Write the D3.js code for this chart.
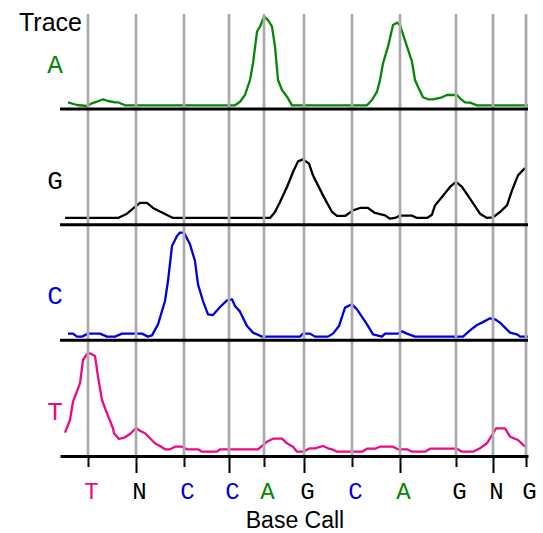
<!DOCTYPE html>
<html>
<head>
<meta charset="utf-8">
<script src="https://cdn.jsdelivr.net/npm/d3@7"></script>
<style>
  body { margin: 0; background: #fff; }
  svg { display: block; }
</style>
</head>
<body>
<div id="chart"></div>
<script>
// chromatogram: one trace per base, base calls along the bottom
var bases = ["A", "G", "C", "T"];
var callScans = [28, 76, 124, 169, 204, 244, 292, 340, 396, 433, 466];
var callLabels = ["T", "N", "C", "C", "A", "G", "C", "A", "G", "N", "G"];

// [scan, intensity]
var traceA = [[8, 67], [17, 40], [27, 30], [32, 57], [37, 73], [43, 97], [48, 80], [55, 67], [58, 67], [65, 37],
  [175, 37], [180, 73], [185, 140], [190, 290], [193, 457], [197, 773], [200, 823], [204, 923], [208, 890],
  [212, 823], [215, 623], [218, 290], [222, 190], [227, 123], [232, 37], [307, 37], [312, 90], [317, 173],
  [320, 290], [323, 457], [328, 623], [333, 840], [337, 863], [340, 840], [347, 623], [352, 473], [355, 290],
  [358, 223], [363, 117], [368, 97], [373, 97], [382, 117], [387, 140], [397, 140], [400, 107], [405, 67],
  [410, 63], [417, 37], [468, 37]];
var traceG = [[5, 67], [58, 67], [67, 110], [75, 177], [80, 217], [87, 217], [93, 167], [103, 117], [113, 67],
  [210, 67], [215, 127], [220, 227], [227, 377], [233, 527], [238, 633], [243, 653], [249, 610], [253, 493],
  [263, 293], [272, 127], [277, 87], [285, 87], [293, 143], [300, 167], [308, 167], [315, 117], [325, 93],
  [330, 60], [335, 67], [340, 90], [352, 90], [357, 67], [367, 67], [372, 100], [375, 193], [382, 277],
  [390, 377], [396, 427], [402, 377], [410, 260], [420, 110], [427, 67], [433, 73], [440, 127], [447, 193],
  [452, 343], [458, 493], [465, 567]];
var traceC = [[8, 67], [13, 67], [17, 37], [22, 37], [28, 67], [40, 67], [47, 37], [55, 37], [62, 67], [82, 67],
  [88, 37], [92, 50], [98, 160], [105, 393], [108, 593], [112, 943], [117, 1043], [120, 1077], [124, 1077],
  [130, 960], [135, 793], [138, 560], [143, 393], [148, 260], [153, 253], [160, 333], [167, 400], [172, 410],
  [175, 343], [180, 287], [187, 143], [193, 77], [202, 37], [240, 37], [243, 67], [250, 67], [255, 37],
  [268, 37], [273, 67], [279, 143], [285, 327], [292, 360], [297, 310], [307, 160], [313, 60], [322, 37],
  [325, 67], [338, 67], [342, 90], [347, 67], [355, 37], [403, 37], [410, 100], [417, 153], [422, 177],
  [430, 220], [435, 210], [440, 177], [450, 77], [457, 60], [460, 37], [468, 37]];
var traceT = [[5, 233], [10, 360], [13, 543], [20, 727], [23, 960], [27, 1020], [30, 1027], [35, 1000], [38, 793],
  [42, 560], [47, 427], [53, 277], [54, 227], [59, 170], [65, 187], [70, 220], [76, 280], [80, 253], [85, 227],
  [95, 127], [100, 100], [105, 67], [110, 67], [115, 93], [122, 93], [127, 67], [138, 67], [142, 43], [157, 43],
  [160, 67], [198, 67], [207, 143], [213, 173], [222, 173], [227, 127], [233, 93], [237, 43], [243, 43],
  [250, 77], [255, 77], [263, 100], [268, 77], [272, 67], [277, 43], [302, 43], [307, 73], [315, 73], [320, 93],
  [333, 93], [338, 67], [347, 67], [352, 43], [365, 43], [370, 73], [397, 73], [402, 43], [413, 43], [420, 77],
  [427, 127], [432, 210], [436, 277], [445, 277], [450, 193], [458, 160], [465, 93]];

var traces = {A: traceA, G: traceG, C: traceC, T: traceT};
var colors = {A: "#078507", G: "#000000", C: "#0000dd", T: "#ec0a84", N: "#000000"};

var width = 543;
var height = 533;
var x = d3.scaleLinear().domain([0, 468]).range([60, 528]);
var row = d3.scalePoint().domain(bases).range([109, 456]);
var y = d3.scaleLinear().domain([0, 1100]).range([0, -110]);
var mono = "'Courier New', 'Liberation Mono', monospace";

var svg = d3.select("#chart")
	.append("svg")
	.attr("width", width)
	.attr("height", height)
	.style("font-family", "'Liberation Sans', Arial, sans-serif");

// traces
var line = d3.line()
	.x(function (d) { return x(d[0]); })
	.y(function (d) { return y(d[1]); });

bases.forEach(function (b) {
    var g = svg.append("g").attr("transform", "translate(0," + row(b) + ")");
    g.append("path")
	    .datum(traces[b])
	    .attr("d", line)
	    .attr("fill", "none")
	    .attr("stroke", colors[b])
	    .attr("stroke-width", 2.3)
	    .attr("stroke-linejoin", "round");
    g.append("text")
	    .attr("x", 55)
	    .attr("y", -36)
	    .attr("text-anchor", "middle")
	    .style("font-family", mono)
	    .style("font-size", "26px")
	    .attr("fill", colors[b])
	    .text(b);
});

// base call grid
svg.selectAll(".call")
	.data(callScans)
	.enter().append("line")
	.attr("class", "call")
	.attr("x1", function (d) { return x(d); })
	.attr("x2", function (d) { return x(d); })
	.attr("y1", 14)
	.attr("y2", 457)
	.attr("stroke", "#aaaaaa")
	.attr("stroke-width", 2.7);

// baselines
bases.slice(0, 3).forEach(function (b) {
    svg.append("line")
	    .attr("x1", x(0))
	    .attr("x2", x(468))
	    .attr("y1", row(b))
	    .attr("y2", row(b))
	    .attr("stroke", "#000")
	    .attr("stroke-width", 3);
});

var axis = svg.append("g")
	.attr("transform", "translate(0," + row("T") + ")")
	.call(d3.axisBottom(x)
	    .tickValues(callScans)
	    .tickFormat(function (d, i) { return callLabels[i]; })
	    .tickSizeOuter(0));
axis.select(".domain").attr("stroke", "#000").attr("stroke-width", 3);
axis.selectAll(".tick line")
	.attr("stroke", "#000")
	.attr("stroke-width", 2)
	.attr("y2", function (d, i) { return i % 2 ? 17 : 11; });
axis.selectAll(".tick text")
	.attr("y", 43)
	.attr("dy", 0)
	.attr("x", 3)
	.style("font-family", mono)
	.style("font-size", "24px")
	.attr("fill", function (d, i) { return colors[callLabels[i]]; });

svg.append("text")
	.attr("x", 19)
	.attr("y", 31)
	.style("font-size", "25px")
	.text("Trace");

svg.append("text")
	.attr("x", 295)
	.attr("y", 528)
	.attr("text-anchor", "middle")
	.style("font-size", "23px")
	.text("Base Call");
</script>
</body>
</html>
